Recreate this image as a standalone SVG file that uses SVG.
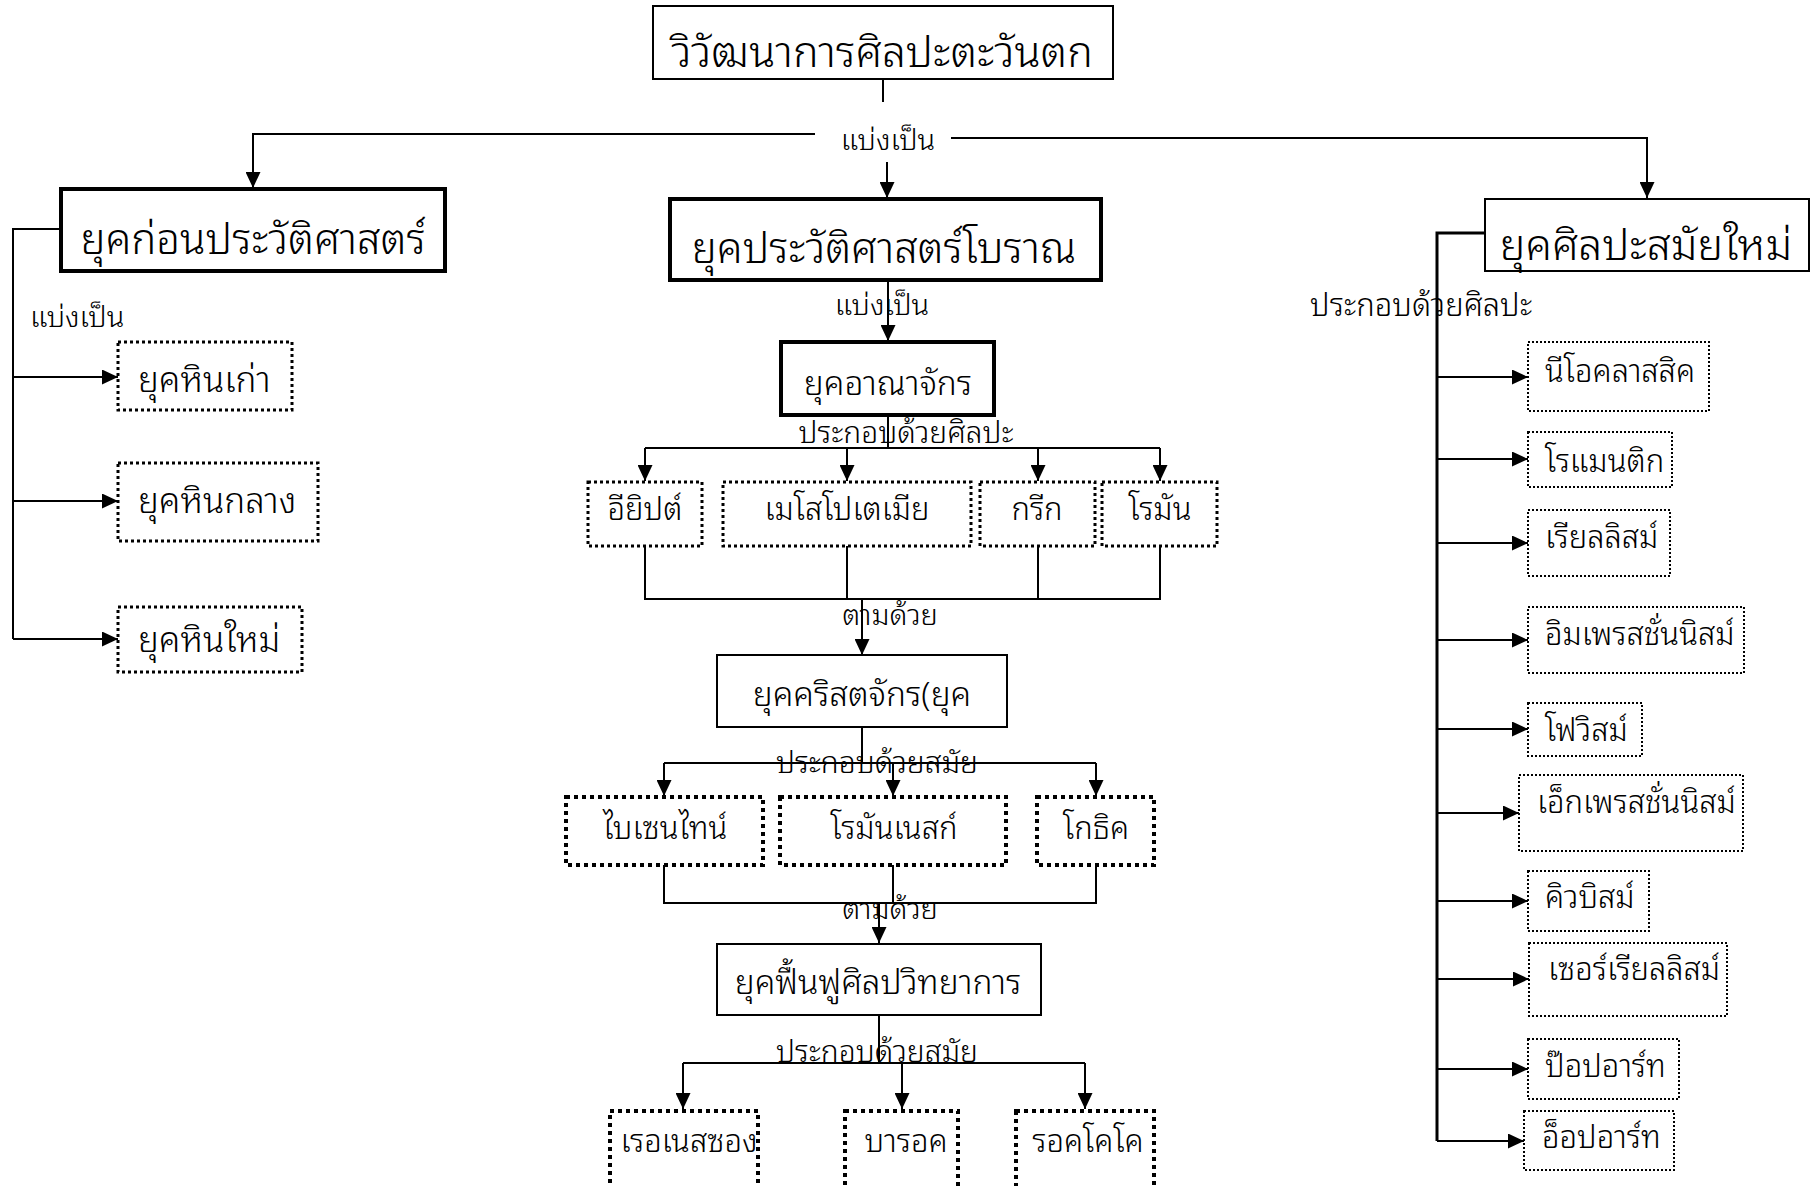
<svg xmlns="http://www.w3.org/2000/svg" width="1811" height="1186" viewBox="0 0 1811 1186">
<defs>
<marker id="ah" viewBox="0 0 16 15" refX="16" refY="7.5" markerWidth="16" markerHeight="15" markerUnits="userSpaceOnUse" orient="auto">
<path d="M0,0 L16,7.5 L0,15 z" fill="#000"/>
</marker>
<style>
text{font-family:"Noto Sans Thai Looped","Loma","Garuda","Noto Serif Thai","Noto Sans Thai","Noto Sans",sans-serif;fill:#000;font-weight:300}
.c{text-anchor:middle}
.solid{fill:#fff;stroke:#000;stroke-width:2}
.thick{fill:#fff;stroke:#000;stroke-width:4}
.dot3{fill:#fff;stroke:#000;stroke-width:3;stroke-dasharray:3 3}
.dot4{fill:#fff;stroke:#000;stroke-width:4;stroke-dasharray:4 4}
.dot2{fill:#fff;stroke:#000;stroke-width:2;stroke-dasharray:2 2}
.ln{fill:none;stroke:#000;stroke-width:2}
.lnk{fill:none;stroke:#000;stroke-width:3}
.arr{fill:none;stroke:#000;stroke-width:2;marker-end:url(#ah)}
.t44{font-size:43px}
.t42{font-size:42px}
.t36{font-size:35px}
.t34{font-size:33.5px}
.t31{font-size:31px}
.t30{font-size:30px}
.t29{font-size:29px}
</style>
</defs>
<rect width="1811" height="1186" fill="#fff"/>

<g id="connectors">
<path class="ln" d="M883,79 V102"/>
<path class="arr" d="M815,134 H253 V188"/>
<path class="arr" d="M951,138 H1647 V198"/>
<path class="arr" d="M887,162 V198"/>
<path class="ln" d="M61,229 H13 V639"/>
<path class="arr" d="M13,377 H118"/>
<path class="arr" d="M13,501 H118"/>
<path class="arr" d="M13,639 H118"/>
<path class="arr" d="M888,281 V341"/>
<path class="ln" d="M888,415 V448"/>
<path class="ln" d="M645,448 H1160"/>
<path class="arr" d="M645,448 V481"/>
<path class="arr" d="M847,448 V481"/>
<path class="arr" d="M1038,448 V481"/>
<path class="arr" d="M1160,448 V481"/>
<path class="ln" d="M645,546 V599 H1160 V546 M847,546 V599 M1038,546 V599"/>
<path class="arr" d="M862,599 V655"/>
<path class="ln" d="M862,727 V763 M664,763 H1096"/>
<path class="arr" d="M664,763 V796"/>
<path class="arr" d="M893,763 V796"/>
<path class="arr" d="M1096,763 V796"/>
<path class="ln" d="M664,865 V903 H1096 V865 M893,865 V903"/>
<path class="arr" d="M879,903 V943"/>
<path class="ln" d="M879,1015 V1063 M683,1063 H1085"/>
<path class="arr" d="M683,1063 V1109"/>
<path class="arr" d="M902,1063 V1109"/>
<path class="arr" d="M1085,1063 V1109"/>
<path class="lnk" d="M1486,233 H1437 V1141"/>
<path class="arr" d="M1437,377 H1528"/>
<path class="arr" d="M1437,459 H1528"/>
<path class="arr" d="M1437,543 H1528"/>
<path class="arr" d="M1437,640 H1528"/>
<path class="arr" d="M1437,729 H1528"/>
<path class="arr" d="M1437,813 H1519"/>
<path class="arr" d="M1437,901 H1528"/>
<path class="arr" d="M1437,979 H1529"/>
<path class="arr" d="M1437,1069 H1528"/>
<path class="arr" d="M1437,1141 H1524"/>
</g>

<g id="labels">
<text class="t29 c" x="888" y="150">แบ่งเป็น</text>
<text class="t29" x="30" y="327">แบ่งเป็น</text>
<text class="t29 c" x="882" y="315">แบ่งเป็น</text>
<text class="t30 c" x="906" y="443">ประกอบด้วยศิลปะ</text>
<text class="t29 c" x="890" y="625">ตามด้วย</text>
<text class="t30 c" x="877" y="773">ประกอบด้วยสมัย</text>
<text class="t29 c" x="890" y="919">ตามด้วย</text>
<text class="t30 c" x="877" y="1062">ประกอบด้วยสมัย</text>
<text class="t31" x="1310" y="316">ประกอบด้วยศิลปะ</text>
</g>

<g id="title"><rect class="solid" x="653" y="6" width="460" height="73"/><text class="t44 c" x="882" y="67">วิวัฒนาการศิลปะตะวันตก</text></g>

<g id="prehistoric"><rect class="thick" x="61" y="189" width="384" height="82"/><text class="t42 c" x="253" y="254">ยุคก่อนประวัติศาสตร์</text></g>
<g id="ancient"><rect class="thick" x="670" y="199" width="431" height="81"/><text class="t42 c" x="884" y="263">ยุคประวัติศาสตร์โบราณ</text></g>
<g id="modern"><rect class="solid" x="1485" y="199" width="324" height="72" stroke-width="3"/><text class="t44 c" x="1646" y="260">ยุคศิลปะสมัยใหม่</text></g>

<g id="paleo"><rect class="dot3" x="118" y="342" width="174" height="68"/><text class="t36" x="138" y="392">ยุคหินเก่า</text></g>
<g id="meso"><rect class="dot3" x="118" y="463" width="200" height="78"/><text class="t36" x="138" y="513">ยุคหินกลาง</text></g>
<g id="neo"><rect class="dot3" x="118" y="607" width="184" height="65"/><text class="t36" x="138" y="652">ยุคหินใหม่</text></g>

<g id="kingdom"><rect class="thick" x="781" y="342" width="213" height="73"/><text class="t34 c" x="888" y="395">ยุคอาณาจักร</text></g>

<g id="egypt"><rect class="dot3" x="588" y="482" width="114" height="64"/><text class="t31 c" x="645" y="520">อียิปต์</text></g>
<g id="mesopotamia"><rect class="dot3" x="723" y="482" width="248" height="64"/><text class="t31 c" x="847" y="520">เมโสโปเตเมีย</text></g>
<g id="greek"><rect class="dot3" x="980" y="482" width="115" height="64"/><text class="t31 c" x="1037" y="520">กรีก</text></g>
<g id="roman"><rect class="dot3" x="1102" y="482" width="115" height="64"/><text class="t31 c" x="1160" y="520">โรมัน</text></g>

<g id="christian"><rect class="solid" x="717" y="655" width="290" height="72"/><text class="t34 c" x="862" y="706">ยุคคริสตจักร(ยุค</text></g>

<g id="byzantine"><rect class="dot4" x="566" y="797" width="197" height="68"/><text class="t31 c" x="665" y="839">ไบเซนไทน์</text></g>
<g id="romanesque"><rect class="dot4" x="780" y="797" width="226" height="68"/><text class="t31 c" x="894" y="839">โรมันเนสก์</text></g>
<g id="gothic"><rect class="dot4" x="1037" y="797" width="117" height="68"/><text class="t31 c" x="1096" y="839">โกธิค</text></g>

<g id="renaissance"><rect class="solid" x="717" y="944" width="324" height="71"/><text class="t34 c" x="878" y="994">ยุคฟื้นฟูศิลปวิทยาการ</text></g>

<g id="renaissance-style"><rect class="dot4" x="610" y="1111" width="148" height="80"/><text class="t31 c" x="689" y="1152">เรอเนสซอง</text></g>
<g id="baroque"><rect class="dot4" x="845" y="1111" width="113" height="80"/><text class="t31 c" x="906" y="1152">บารอค</text></g>
<g id="rococo"><rect class="dot4" x="1016" y="1111" width="138" height="80"/><text class="t31 c" x="1088" y="1152">รอคโคโค</text></g>

<g id="neoclassic"><rect class="dot2" x="1528" y="342" width="181" height="69"/><text class="t31" x="1545" y="382">นีโอคลาสสิค</text></g>
<g id="romantic"><rect class="dot2" x="1528" y="432" width="144" height="55"/><text class="t31" x="1545" y="472">โรแมนติก</text></g>
<g id="realism"><rect class="dot2" x="1528" y="510" width="142" height="66"/><text class="t31" x="1545" y="548">เรียลลิสม์</text></g>
<g id="impressionism"><rect class="dot2" x="1528" y="607" width="216" height="66"/><text class="t31" x="1545" y="645">อิมเพรสชั่นนิสม์</text></g>
<g id="fauvism"><rect class="dot2" x="1528" y="703" width="114" height="53"/><text class="t31" x="1545" y="741">โฟวิสม์</text></g>
<g id="expressionism"><rect class="dot2" x="1519" y="775" width="224" height="76"/><text class="t31" x="1537" y="813">เอ็กเพรสชั่นนิสม์</text></g>
<g id="cubism"><rect class="dot2" x="1528" y="871" width="121" height="60"/><text class="t31" x="1545" y="908">คิวบิสม์</text></g>
<g id="surrealism"><rect class="dot2" x="1529" y="943" width="198" height="73"/><text class="t31" x="1548" y="980">เซอร์เรียลลิสม์</text></g>
<g id="popart"><rect class="dot2" x="1528" y="1039" width="151" height="60"/><text class="t31" x="1545" y="1077">ป๊อปอาร์ท</text></g>
<g id="opart"><rect class="dot2" x="1524" y="1111" width="150" height="59"/><text class="t31" x="1542" y="1148">อ็อปอาร์ท</text></g>
</svg>
